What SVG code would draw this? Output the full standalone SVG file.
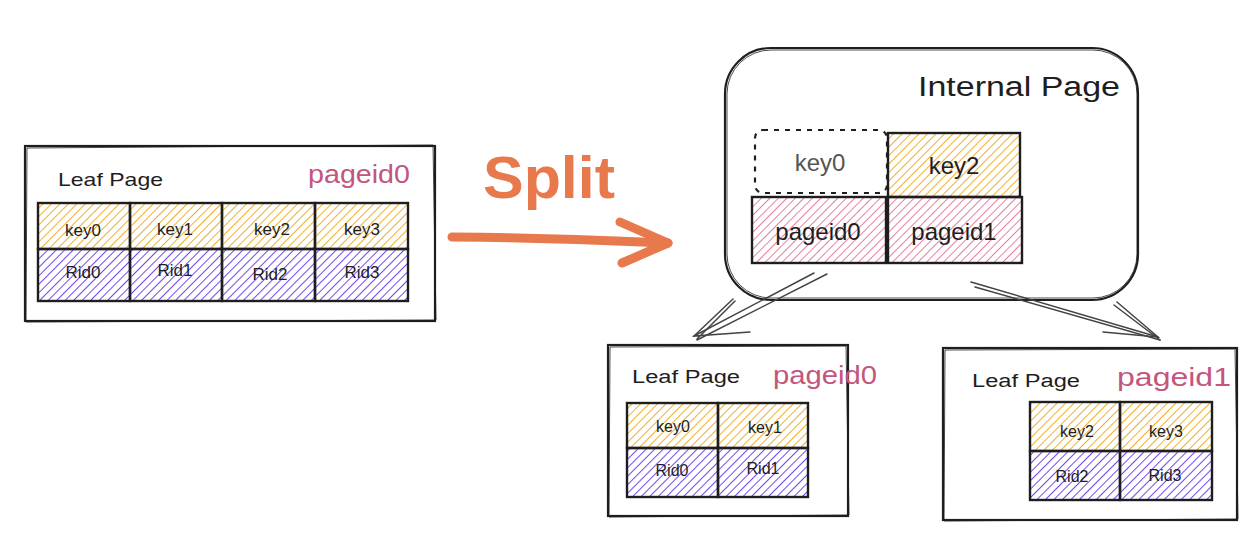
<svg xmlns="http://www.w3.org/2000/svg" width="1246" height="538" viewBox="0 0 1246 538">
<defs>
<pattern id="hY" patternUnits="userSpaceOnUse" width="6" height="6" patternTransform="rotate(45)"><line x1="0" y1="0" x2="0" y2="6" stroke="#efb02e" stroke-width="2"/></pattern>
<pattern id="hP" patternUnits="userSpaceOnUse" width="6" height="6" patternTransform="rotate(45)"><line x1="0" y1="0" x2="0" y2="6" stroke="#7448ee" stroke-width="2"/></pattern>
<pattern id="hR" patternUnits="userSpaceOnUse" width="6" height="6" patternTransform="rotate(45)"><line x1="0" y1="0" x2="0" y2="6" stroke="#e06b8e" stroke-width="1.7"/></pattern>
</defs>
<style>
.box{fill:none;stroke:#1e1e1e;stroke-width:2.2}
.box2{fill:none;stroke:#1e1e1e;stroke-width:1;opacity:.8}
.key{fill:url(#hY);stroke:#1e1e1e;stroke-width:2.4}
.rid{fill:url(#hP);stroke:#1e1e1e;stroke-width:2.4}
.pg{fill:url(#hR);stroke:#1e1e1e;stroke-width:2.4}
.t{font-family:"Liberation Sans",Arial,sans-serif;fill:#1e1e1e}
.c{text-anchor:middle}
.pink{fill:#c4557d}
.conn{fill:none;stroke:#444;stroke-width:1.5;stroke-linecap:round}
</style>
<rect width="1246" height="538" fill="#ffffff"/>

<g id="leaf-left">
<rect class="box" x="25" y="146" width="410" height="175"/>
<path class="box2" d="M27 148 L433 145 L436 320 L26 322 Z"/>
<text class="t" x="58" y="186" font-size="19" textLength="105" lengthAdjust="spacingAndGlyphs">Leaf Page</text>
<text class="t pink" x="308" y="183" font-size="25" textLength="102" lengthAdjust="spacingAndGlyphs">pageid0</text>
<rect class="key" x="38" y="203" width="92" height="46"/>
<rect class="key" x="130" y="203" width="92" height="46"/>
<rect class="key" x="222" y="203" width="93" height="46"/>
<rect class="key" x="315" y="203" width="93" height="46"/>
<rect class="rid" x="38" y="249" width="92" height="52"/>
<rect class="rid" x="130" y="249" width="92" height="52"/>
<rect class="rid" x="222" y="249" width="93" height="52"/>
<rect class="rid" x="315" y="249" width="93" height="52"/>
<text class="t c" x="83" y="236" font-size="17">key0</text>
<text class="t c" x="175" y="235" font-size="17">key1</text>
<text class="t c" x="272" y="235" font-size="17">key2</text>
<text class="t c" x="362" y="235" font-size="17">key3</text>
<text class="t c" x="83" y="278" font-size="17">Rid0</text>
<text class="t c" x="175" y="276" font-size="17">Rid1</text>
<text class="t c" x="270" y="280" font-size="17">Rid2</text>
<text class="t c" x="362" y="278" font-size="17">Rid3</text>
</g>

<g id="split-label">
<text x="483" y="198" font-family="Liberation Sans,Arial,sans-serif" font-weight="bold" font-size="60" fill="#e8794c" textLength="132" lengthAdjust="spacingAndGlyphs">Split</text>
</g>

<g id="internal-page">
<rect class="box" x="725" y="48" width="413" height="252" rx="46" ry="46"/>
<rect class="box2" x="727" y="50" width="410" height="248" rx="44" ry="44"/>
<text class="t" x="918" y="96" font-size="27" textLength="202" lengthAdjust="spacingAndGlyphs">Internal Page</text>
<rect x="755" y="130" width="132" height="63" rx="8" ry="8" fill="none" stroke="#1e1e1e" stroke-width="2.2" stroke-dasharray="5 6"/>
<text class="t c" x="820" y="171" font-size="24" style="fill:#555">key0</text>
<rect class="key" x="888" y="133" width="132" height="64"/>
<text class="t c" x="954" y="174" font-size="24">key2</text>
<rect class="pg" x="752" y="197" width="134" height="66"/>
<rect class="pg" x="888" y="197" width="134" height="66"/>
<text class="t c" x="818" y="240" font-size="24">pageid0</text>
<text class="t c" x="954" y="240" font-size="24">pageid1</text>
</g>

<g id="leaf-bottom-left">
<rect class="box" x="608" y="345" width="240" height="171"/>
<path class="box2" d="M610 347 L846 346 L849 515 L609 517 Z"/>
<text class="t" x="632" y="383" font-size="18" textLength="108" lengthAdjust="spacingAndGlyphs">Leaf Page</text>
<text class="t pink" x="773" y="384" font-size="25" textLength="104" lengthAdjust="spacingAndGlyphs">pageid0</text>
<rect class="key" x="627" y="403" width="91" height="45"/>
<rect class="key" x="718" y="403" width="90" height="45"/>
<rect class="rid" x="627" y="448" width="91" height="49"/>
<rect class="rid" x="718" y="448" width="90" height="49"/>
<text class="t c" x="673" y="432" font-size="16">key0</text>
<text class="t c" x="765" y="433" font-size="16">key1</text>
<text class="t c" x="672" y="476" font-size="16">Rid0</text>
<text class="t c" x="763" y="474" font-size="16">Rid1</text>
</g>

<g id="leaf-bottom-right">
<rect class="box" x="943" y="348" width="294" height="172"/>
<path class="box2" d="M945 350 L1235 349 L1238 519 L944 521 Z"/>
<text class="t" x="972" y="387" font-size="18" textLength="108" lengthAdjust="spacingAndGlyphs">Leaf Page</text>
<text class="t pink" x="1117" y="386" font-size="25" textLength="114" lengthAdjust="spacingAndGlyphs">pageid1</text>
<rect class="key" x="1030" y="402" width="90" height="49"/>
<rect class="key" x="1120" y="402" width="92" height="49"/>
<rect class="rid" x="1030" y="451" width="90" height="49"/>
<rect class="rid" x="1120" y="451" width="92" height="49"/>
<text class="t c" x="1077" y="437" font-size="16">key2</text>
<text class="t c" x="1166" y="437" font-size="16">key3</text>
<text class="t c" x="1072" y="482" font-size="16">Rid2</text>
<text class="t c" x="1165" y="481" font-size="16">Rid3</text>
</g>

<g id="connectors">
<path d="M452 237 Q560 238 668 243" fill="none" stroke="#e8794c" stroke-width="9" stroke-linecap="round"/>
<path d="M620 222 L668 243 L622 263" fill="none" stroke="#e8794c" stroke-width="9" stroke-linecap="round" stroke-linejoin="round"/>
<path class="conn" d="M814 273 L694 336 M827 274 L697 340"/>
<path class="conn" d="M733 299 L694 336 L750 332 M735 301 L697 339"/>
<path class="conn" d="M971 282 L1158 337 M975 287 L1160 340"/>
<path class="conn" d="M1117 302 L1158 337 L1103 332 M1114 305 L1160 340"/>
</g>
</svg>
